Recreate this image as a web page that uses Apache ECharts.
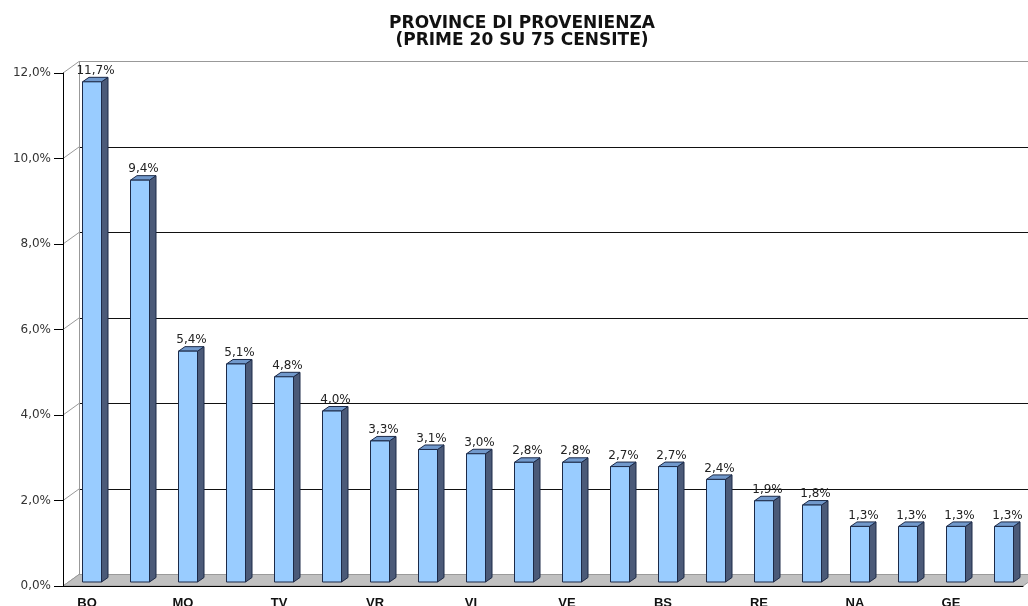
<!DOCTYPE html>
<html><head><meta charset="utf-8">
<script src="https://cdn.jsdelivr.net/npm/echarts@6/dist/echarts.min.js"></script>
<style>html,body{margin:0;padding:0;background:#fff}#c{width:1028px;height:606px}</style>
</head><body><div id="c"></div>
<script>
const titleLines = ['PROVINCE DI PROVENIENZA', '(PRIME 20 SU 75 CENSITE)'];
// only every other province label is visible in the source; hidden ones left blank
const categories = ['BO','','MO','','TV','','VR','','VI','','VE','','BS','','RE','','NA','','GE',''];
const values = [11.7, 9.4, 5.4, 5.1, 4.8, 4.0, 3.3, 3.1, 3.0, 2.8, 2.8, 2.7, 2.7, 2.4, 1.9, 1.8, 1.3, 1.3, 1.3, 1.3];
const yTicks = [0, 2, 4, 6, 8, 10, 12];

const fmt = v => Number(v).toFixed(1).replace('.', ',') + '%';
const DX = 16, DY = 11.5;
const chart = echarts.init(document.getElementById('c'), null, {renderer: 'canvas'});
chart.setOption({
  animation: false,
  backgroundColor: '#fff',
  graphic: [{
    type: 'text', x: 522, y: 15, z: 10,
    style: {text: titleLines.join('\n'), align: 'center', verticalAlign: 'top',
      font: 'bold 17px "DejaVu Sans"', lineHeight: 17, fill: '#111'}
  }],
  grid: [
    {left: 63, right: 5, top: 73, bottom: 20, outerBoundsMode: 'none', containLabel: false},
    {left: 79, right: -11, top: 61.5, bottom: 31.5, outerBoundsMode: 'none', containLabel: false}
  ],
  xAxis: [
    {gridIndex: 0, type: 'category', data: categories, boundaryGap: true, z: 6,
     axisLine: {lineStyle: {color: '#000', width: 1}},
     axisTick: {interval: 0, length: 8, lineStyle: {color: '#000'}},
     axisLabel: {interval: 1, margin: 11, fontFamily: 'Liberation Sans', fontWeight: 'bold', fontSize: 13, color: '#111'}},
    {gridIndex: 1, type: 'value', min: 0, max: 1, show: false}
  ],
  yAxis: [
    {gridIndex: 0, type: 'value', min: 0, max: 12, interval: 2, z: 6,
     axisLine: {show: true, lineStyle: {color: '#000'}},
     axisTick: {show: true, length: 9, lineStyle: {color: '#000'}},
     axisLabel: {formatter: fmt, margin: 12, fontFamily: 'DejaVu Sans', fontSize: 12, color: '#333'},
     splitLine: {show: false}},
    {gridIndex: 1, type: 'value', min: 0, max: 12, interval: 2,
     axisLine: {show: true, lineStyle: {color: '#999'}},
     axisTick: {show: false}, axisLabel: {show: false},
     splitLine: {show: true, lineStyle: {color: ['#999', '#111', '#111', '#111', '#111', '#111', '#999'], width: 1}}}
  ],
  series: [
    {
      type: 'custom', xAxisIndex: 0, yAxisIndex: 0, z: 1, silent: true,
      data: [[0, 0]],
      renderItem: (params, api) => {
        const cs = params.coordSys;
        const children = [];
        yTicks.forEach(t => {
          const y = api.coord([0, t])[1];
          children.push({type: 'line', shape: {x1: cs.x, y1: y, x2: cs.x + DX, y2: y - DY},
            style: {stroke: '#999', lineWidth: 1}});
        });
        const y0 = api.coord([0, 0])[1];
        children.push({type: 'polygon',
          shape: {points: [[cs.x, y0], [cs.x + cs.width, y0], [cs.x + cs.width + DX, y0 - DY], [cs.x + DX, y0 - DY]]},
          style: {fill: '#c0c0c0', stroke: '#9a9a9a', lineWidth: 1}});
        return {type: 'group', children};
      }
    },
    {
      type: 'custom', xAxisIndex: 0, yAxisIndex: 0, z: 5,
      data: values.map((v, i) => [i, v]),
      encode: {x: 0, y: 1},
      renderItem: (params, api) => {
        const i = api.value(0), v = api.value(1);
        const top = api.coord([i, v]), base = api.coord([i, 0]);
        const cx = top[0];
        const sh = 4, d = 6.5, dh = 4.5;
        const x1 = cx - 4.5, x2 = cx + 14.5;
        const yT = top[1] - sh, yB = base[1] - sh;
        const edge = '#1c2a48';
        return {type: 'group', children: [
          {type: 'polygon', shape: {points: [[x2, yT], [x2 + d, yT - dh], [x2 + d, yB - dh], [x2, yB]]},
            style: {fill: '#4b5a78', stroke: edge, lineWidth: 1}},
          {type: 'polygon', shape: {points: [[x1, yT], [x1 + d, yT - dh], [x2 + d, yT - dh], [x2, yT]]},
            style: {fill: '#7199cc', stroke: edge, lineWidth: 1}},
          {type: 'rect', shape: {x: x1, y: yT, width: x2 - x1, height: yB - yT},
            style: {fill: '#99ccff', stroke: edge, lineWidth: 1}},
          {type: 'text', z2: 10, style: {text: fmt(v), x: cx + 8.5, y: yT - 11, align: 'center', verticalAlign: 'middle',
            font: '12px "DejaVu Sans"', fill: '#222'}}
        ]};
      }
    }
  ]
});
</script>
</body></html>
